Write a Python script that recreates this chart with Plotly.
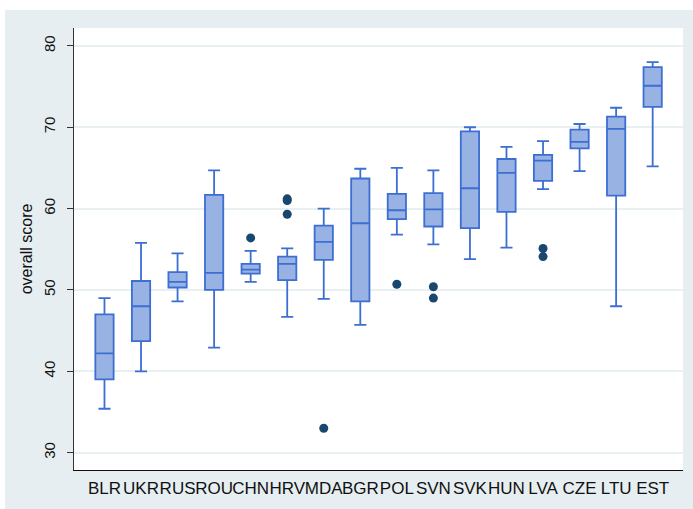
import plotly.graph_objects as go

countries = ["BLR", "UKR", "RUS", "ROU", "CHN", "HRV", "MDA", "BGR",
             "POL", "SVN", "SVK", "HUN", "LVA", "CZE", "LTU", "EST"]
lower_whisker = [35.4, 40.0, 48.6, 42.9, 51.0, 46.7, 48.9, 45.7,
                 56.8, 55.6, 53.8, 55.2, 62.4, 64.6, 48.0, 65.2]
q1 = [39.0, 43.7, 50.3, 50.0, 52.0, 51.2, 53.7, 48.6,
      58.7, 57.8, 57.6, 59.6, 63.4, 67.4, 61.6, 72.5]
median = [42.2, 48.0, 51.0, 52.1, 52.5, 53.2, 55.9, 58.2,
          59.8, 59.9, 62.5, 64.4, 65.9, 68.2, 69.8, 75.1]
q3 = [47.0, 51.1, 52.2, 61.7, 53.2, 54.1, 57.9, 63.7,
      61.8, 61.9, 69.5, 66.1, 66.6, 69.7, 71.3, 77.4]
upper_whisker = [49.0, 55.8, 54.5, 64.7, 54.8, 55.1, 60.0, 64.9,
                 65.0, 64.7, 70.0, 67.6, 68.3, 70.4, 72.4, 78.0]

outlier_country = ["CHN", "HRV", "HRV", "HRV", "MDA", "POL", "SVN", "SVN", "LVA", "LVA"]
outlier_value = [56.4, 61.0, 61.2, 59.3, 33.0, 50.7, 50.4, 49.0, 55.1, 54.1]

fig = go.Figure()
fig.add_trace(go.Box(
    x=countries, q1=q1, median=median, q3=q3,
    lowerfence=lower_whisker, upperfence=upper_whisker,
    fillcolor="#98B2E4", line=dict(color="#3D6ED2", width=1.8),
    width=0.5, whiskerwidth=0.66, boxpoints=False, showlegend=False,
    hoverinfo="skip",
))
fig.add_trace(go.Scatter(
    x=outlier_country, y=outlier_value, mode="markers",
    marker=dict(color="#1A476F", size=9), showlegend=False, hoverinfo="skip",
))

W, H = 693, 509
L, R, T, B = 74, 10, 28, 39
pw, ph = W - L - R, H - T - B

def px(x):
    return (x - L) / pw

def py(y):
    return (H - B - y) / ph

fig.update_layout(
    width=W, height=H,
    margin=dict(l=L, r=R, t=T, b=B, autoexpand=False),
    paper_bgcolor="#E6EEF1", plot_bgcolor="white",
    font=dict(family="Liberation Sans, Arial, sans-serif", color="#111111"),
    shapes=[
        dict(type="rect", xref="paper", yref="paper", x0=px(0), x1=px(W), y0=py(10), y1=py(0),
             fillcolor="white", line=dict(width=0), layer="below"),
        dict(type="rect", xref="paper", yref="paper", x0=px(0), x1=px(5), y0=py(H), y1=py(0),
             fillcolor="white", line=dict(width=0), layer="below"),
    ],
    xaxis=dict(
        type="category", range=[-0.834, 15.83], automargin=False,
        showgrid=False, showline=True, linecolor="#111111", linewidth=1,
        ticks="", tickangle=0, tickfont=dict(size=17), zeroline=False,
        ticklabelstandoff=3,
    ),
    yaxis=dict(
        range=[27.87, 82.2], tickvals=[30, 40, 50, 60, 70, 80], automargin=False,
        showgrid=True, gridcolor="#E8F0F2", gridwidth=1.5,
        showline=True, linecolor="#333333", linewidth=1,
        ticks="outside", ticklen=6, tickcolor="#333333",
        tickangle=-90, tickfont=dict(size=15), zeroline=False,
        ticklabelstandoff=6,
        title=dict(text="overall score", font=dict(size=16), standoff=4),
    ),
)

fig.write_html("out.html")
